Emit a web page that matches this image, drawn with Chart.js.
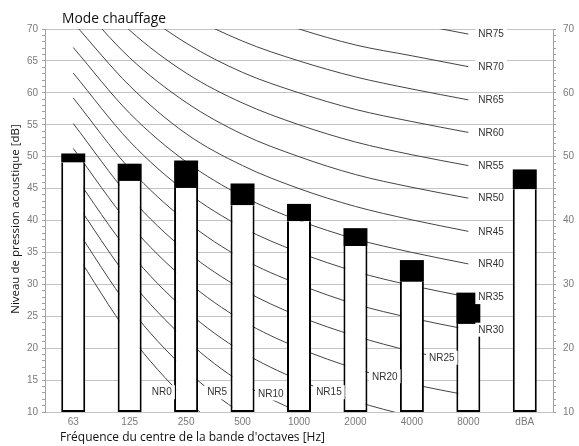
<!DOCTYPE html>
<html>
<head>
<meta charset="utf-8">
<script src="https://cdn.jsdelivr.net/npm/chart.js@4"></script>
<style>
  html, body { margin: 0; padding: 0; background: #fff; }
  canvas { display: block; }
</style>
</head>
<body>
<canvas id="chart" width="579" height="446"></canvas>
<script>
const categories = ["63", "125", "250", "500", "1000", "2000", "4000", "8000", "dBA"];

// bar levels (white part top, black part top)
const baseLevel = [49.1, 46.2, 45.1, 42.4, 39.9, 36.0, 30.4, 23.8, 44.9];
const peakLevel = [50.5, 48.9, 49.4, 45.8, 42.6, 38.8, 33.8, 28.7, 48.0];

// NR curves, 63 Hz .. 8000 Hz (no value for dBA)
const NR0 = [35.5, 22.0, 12.0, 4.8, 0.0, -3.5, -6.1, -8.0, null];
const NR5 = [39.4, 26.3, 16.6, 9.7, 5.0, 1.6, -1.0, -2.8, null];
const NR10 = [43.4, 30.7, 21.3, 14.5, 10.0, 6.6, 4.2, 2.3, null];
const NR15 = [47.3, 35.0, 25.9, 19.4, 15.0, 11.7, 9.3, 7.4, null];
const NR20 = [51.3, 39.4, 30.6, 24.3, 20.0, 16.8, 14.4, 12.6, null];
const NR25 = [55.2, 43.7, 35.2, 29.2, 25.0, 21.9, 19.5, 17.7, null];
const NR30 = [59.2, 48.1, 39.9, 34.0, 30.0, 26.9, 24.7, 22.9, null];
const NR35 = [63.1, 52.4, 44.5, 38.9, 35.0, 32.0, 29.8, 28.0, null];
const NR40 = [67.1, 56.8, 49.2, 43.8, 40.0, 37.1, 35.0, 33.2, null];
const NR45 = [71.0, 61.1, 53.6, 48.6, 45.0, 42.2, 40.1, 38.3, null];
const NR50 = [75.0, 65.5, 58.5, 53.5, 50.0, 47.2, 45.2, 43.5, null];
const NR55 = [78.9, 69.8, 63.1, 58.4, 55.0, 52.3, 50.3, 48.6, null];
const NR60 = [82.9, 74.2, 67.8, 63.2, 60.0, 57.4, 55.5, 53.8, null];
const NR65 = [86.8, 78.5, 72.4, 68.1, 65.0, 62.5, 60.6, 58.9, null];
const NR70 = [90.8, 82.9, 77.1, 73.0, 70.0, 67.5, 65.8, 64.1, null];
const NR75 = [94.7, 87.2, 81.7, 77.9, 75.0, 72.6, 70.9, 69.2, null];

const nrCurves = [NR0, NR5, NR10, NR15, NR20, NR25, NR30, NR35, NR40, NR45, NR50, NR55, NR60, NR65, NR70, NR75];
const nrNames = ["NR0", "NR5", "NR10", "NR15", "NR20", "NR25", "NR30", "NR35", "NR40", "NR45", "NR50", "NR55", "NR60", "NR65", "NR70", "NR75"];

// where the low curves get their label inside the plot: [category index, dB]
const lowLabelSpots = [[1.57, 13.1], [2.55, 13.1], [3.5, 12.9], [4.53, 13.1], [5.52, 15.6], [6.53, 18.5]];

const TICK_FONT = { family: "'Liberation Sans', Arial, sans-serif", size: 10 };
const TICK_COLOR = "#7a7a7a";

const nrLabels = {
  id: "nrLabels",
  afterDatasetsDraw(chart) {
    const { ctx, scales } = chart;
    const x = scales.x;
    const y = scales.y;
    ctx.save();
    ctx.font = "10px 'Liberation Sans', Arial, sans-serif";
    ctx.textBaseline = "middle";
    ctx.textAlign = "left";
    nrNames.forEach((name, i) => {
      let px, py;
      if (i < lowLabelSpots.length) {
        const [ci, v] = lowLabelSpots[i];
        px = x.getPixelForValue(ci) - ctx.measureText(name).width / 2;
        py = y.getPixelForValue(v);
      } else {
        px = x.getPixelForValue(7) + 10;
        py = y.getPixelForValue(nrCurves[i][7]);
      }
      const w = ctx.measureText(name).width;
      ctx.fillStyle = "#fff";
      ctx.fillRect(px - 3, py - 7, w + 6, 14);
      ctx.fillStyle = "#333";
      ctx.fillText(name, px, py + 0.5);
    });
    ctx.restore();
  },
  afterDraw(chart) {
    const { ctx } = chart;
    ctx.save();
    ctx.fillStyle = "#111";
    ctx.textBaseline = "alphabetic";
    ctx.textAlign = "left";
    ctx.font = "14px 'Open Sans', sans-serif";
    ctx.fillText("Mode chauffage", 62, 23, 104);
    ctx.font = "12px 'Open Sans', sans-serif";
    ctx.fillText("Fréquence du centre de la bande d'octaves [Hz]", 60, 441, 265);
    ctx.translate(19, 219);
    ctx.rotate(-Math.PI / 2);
    ctx.textAlign = "center";
    ctx.font = "11.5px 'Open Sans', sans-serif";
    ctx.fillText("Niveau de pression acoustique [dB]", 0, 0, 200);
    ctx.restore();
  },
};

const datasets = [
  {
    type: "bar",
    data: baseLevel.map((v) => [10, v]),
    backgroundColor: "#fff",
    borderColor: "#000",
    borderWidth: 2,
    borderSkipped: "top",
    order: 0,
  },
  {
    type: "bar",
    data: baseLevel.map((v, i) => [v, peakLevel[i]]),
    backgroundColor: "#000",
    borderWidth: 0,
    order: 0,
  },
];

nrCurves.forEach((curve) => {
  datasets.push({
    type: "line",
    data: curve,
    borderColor: "#444",
    borderWidth: 1,
    pointRadius: 0,
    cubicInterpolationMode: "monotone",
    order: 1,
  });
});

new Chart(document.getElementById("chart"), {
  data: { labels: categories, datasets },
  options: {
    responsive: false,
    animation: false,
    layout: { padding: { top: 29, left: 0, right: 0, bottom: 0 } },
    datasets: { bar: { categoryPercentage: 1, barPercentage: 0.425 } },
    plugins: { legend: { display: false }, tooltip: { enabled: false } },
    scales: {
      x: {
        stacked: true,
        grid: { display: false, drawTicks: false },
        border: { display: false },
        ticks: { font: TICK_FONT, color: TICK_COLOR, padding: 4 },
        afterFit: (s) => { s.height = 34; },
      },
      y: {
        min: 10,
        max: 70,
        stacked: false,
        grid: {
          color: (c) => (c.tick && c.tick.value % 5 === 0 ? "#c4c4c4" : "rgba(0,0,0,0)"),
          tickColor: "#a0a0a0",
          tickLength: 3,
        },
        border: { color: "#a0a0a0" },
        ticks: {
          stepSize: 1,
          autoSkip: false,
          font: TICK_FONT,
          color: TICK_COLOR,
          padding: 4,
          callback: (v) => (v % 5 === 0 ? v : ""),
        },
        afterFit: (s) => { s.width = 45; },
      },
      y2: {
        position: "right",
        min: 10,
        max: 70,
        grid: { drawOnChartArea: false, tickColor: "#a0a0a0", tickLength: 3 },
        border: { color: "#a0a0a0" },
        ticks: {
          stepSize: 1,
          autoSkip: false,
          font: TICK_FONT,
          color: TICK_COLOR,
          padding: 7,
          callback: (v) => (v % 10 === 0 ? v : ""),
        },
        afterFit: (s) => { s.width = 26; },
      },
    },
  },
  plugins: [nrLabels],
});
</script>
</body>
</html>
